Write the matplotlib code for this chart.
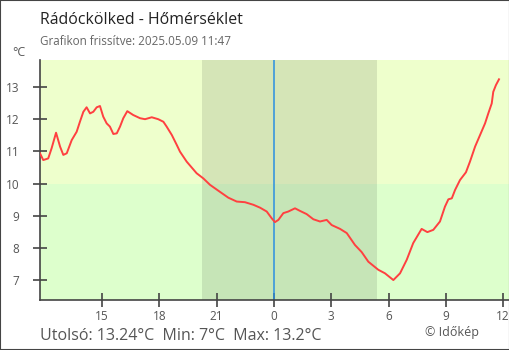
import matplotlib
matplotlib.use("Agg")
import matplotlib.pyplot as plt
from matplotlib.patches import Rectangle

# hours since midnight of the previous day (24 = midnight)
hours = [11.75, 11.92, 12.18, 12.36, 12.59, 12.80, 12.97, 13.15, 13.41, 13.67,
         13.84, 14.02, 14.19, 14.37, 14.54, 14.72, 14.89, 15.06, 15.24, 15.41,
         15.59, 15.77, 15.94, 16.11, 16.32, 16.63, 16.99, 17.25, 17.60, 17.94,
         18.21, 18.38, 18.65, 18.91, 19.08, 19.43, 19.95, 20.30, 20.65, 21.08,
         21.61, 22.05, 22.48, 22.92, 23.27, 23.62, 23.88, 24.05, 24.23, 24.49,
         24.75, 25.10, 25.36, 25.71, 26.06, 26.41, 26.76, 27.02, 27.46, 27.81,
         28.24, 28.59, 28.94, 29.46, 29.81, 30.25, 30.60, 30.95, 31.29, 31.73,
         32.03, 32.34, 32.69, 32.95, 33.13, 33.31, 33.48, 33.74, 34.05, 34.26,
         34.53, 34.79, 35.05, 35.22, 35.40, 35.48, 35.62, 35.78]
temps = [10.94, 10.73, 10.78, 11.10, 11.58, 11.15, 10.89, 10.94, 11.35, 11.61,
         11.92, 12.23, 12.37, 12.18, 12.23, 12.37, 12.41, 12.08, 11.87, 11.77,
         11.54, 11.56, 11.77, 12.03, 12.25, 12.13, 12.03, 12.00, 12.06, 12.00,
         11.92, 11.77, 11.51, 11.20, 10.99, 10.68, 10.32, 10.16, 9.96, 9.78,
         9.56, 9.44, 9.42, 9.34, 9.25, 9.13, 8.92, 8.80, 8.87, 9.08,
         9.13, 9.23, 9.15, 9.05, 8.89, 8.82, 8.87, 8.71, 8.59, 8.46,
         8.09, 7.87, 7.57, 7.32, 7.21, 7.00, 7.21, 7.63, 8.15, 8.59,
         8.49, 8.56, 8.82, 9.28, 9.51, 9.54, 9.80, 10.11, 10.35, 10.68,
         11.15, 11.51, 11.87, 12.18, 12.49, 12.85, 13.06, 13.24]

x_ticks = [15, 18, 21, 24, 27, 30, 33, 36]
x_labels = ["15", "18", "21", "0", "3", "6", "9", "12"]
y_ticks = [7, 8, 9, 10, 11, 12, 13]
night = (20.23, 29.39)

plt.rcParams["font.family"] = ["Open Sans", "DejaVu Sans"]

fig = plt.figure(figsize=(5.1, 3.5), dpi=100)
ax = fig.add_axes([40 / 510, 50 / 350, 480 / 510, 240 / 350])
ax.set_xlim(11.75, 36.88)
ax.set_ylim(6.38, 13.84)

# background bands
ax.axhspan(10, 13.84, color="#eeffcc", zorder=0, lw=0)
ax.axhspan(6.38, 10, color="#ddffcc", zorder=0, lw=0)
ax.axvspan(night[0], night[1], color="black", alpha=0.1, zorder=1, lw=0)
ax.axvline(24, color="#2b8fe0", lw=1.1, zorder=2)

ax.plot(hours, temps, color="#ff4040", lw=1.4, zorder=3)

for s in ["top", "right"]:
    ax.spines[s].set_visible(False)
for s in ["left", "bottom"]:
    ax.spines[s].set_color("#444444")
    ax.spines[s].set_linewidth(1.2)

ax.set_xticks(x_ticks)
ax.set_xticklabels(x_labels)
ax.set_yticks(y_ticks)
ax.tick_params(axis="both", direction="inout", length=10, width=1.2,
               color="#444444", labelcolor="#555555", labelsize=8.5)
ax.tick_params(axis="x", pad=2)
ax.tick_params(axis="y", pad=10)

fig.text(40 / 510, 1 - 24 / 350, "Rádóckölked - Hőmérséklet", fontsize=11.4,
         color="#222222", va="baseline")
fig.text(40 / 510, 1 - 45 / 350, "Grafikon frissítve: 2025.05.09 11:47",
         fontsize=8.4, color="#666666", va="baseline")
fig.text(12 / 510, 1 - 56 / 350, "°C", fontsize=9, color="#555555",
         va="baseline")
fig.text(40 / 510, 1 - 340 / 350, "Utolsó: 13.24°C  Min: 7°C  Max: 13.2°C",
         fontsize=11.5, color="#555555", va="baseline")
fig.text(425 / 510, 1 - 336 / 350, "© Időkép", fontsize=9, color="#555555",
         va="baseline")

# outer frame
fig.patches.append(Rectangle((0, 0), 1, 1, transform=fig.transFigure,
                             fill=False, edgecolor="#444444", lw=1.5,
                             zorder=10))

fig.savefig("out.png", dpi=100)
